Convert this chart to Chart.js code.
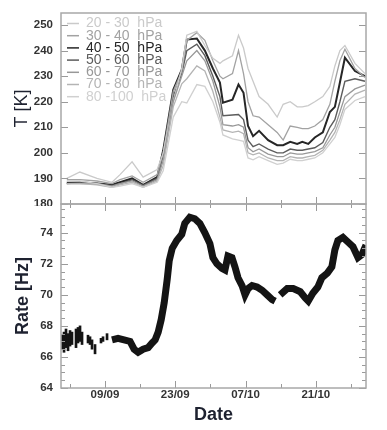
<!DOCTYPE html>
<html><head><meta charset="utf-8">
<script src="https://cdn.jsdelivr.net/npm/chart.js@4/dist/chart.umd.min.js"></script>
<style>
html,body{margin:0;padding:0;background:#fff;}
#wrap{position:relative;width:387px;height:430px;overflow:hidden;background:#fff;}
#topc{position:absolute;left:0;top:0;}
#botc{position:absolute;left:0;top:200px;}
</style></head><body>
<div id="wrap">
<canvas id="topc" width="387" height="206"></canvas>
<canvas id="botc" width="387" height="230"></canvas>
</div>
<script>
// ---------- data ----------
const tempDays = [0.4,3,6.4,9.4,11,13.4,15.6,18.4,19.6,21.6,23.3,24.3,26.3,27.9,29.5,30.9,31.5,33.4,34.6,35.6,36.5,37.5,38.7,40.5,42.3,43.5,44.9,46.3,47.3,48.5,49.8,51.4,52.8,53.8,54.8,55.8,57.8,59.8];
const layerLabels = ['20 - 30  hPa','30 - 40  hPa','40 - 50  hPa','50 - 60  hPa','60 - 70  hPa','70 - 80  hPa','80 -100  hPa'];
const t2030 = [190,192.5,190,188.5,191.5,196.5,190.5,193.5,200,220,233,246,247.5,242,237,235,236,238,246,241,233,228,222,219,214,219,220,218,218,218.5,220,222,226,234,240,242,235,231];
const t3040 = [189.5,189.5,189,188,189.5,191,188.5,191.5,200,224,232,244,247,244,236,230,229,231,240,231,220,214.5,214,211,208,205,210.5,210,209.5,209.5,210.5,213,219,228,236,240.5,233,229.5];
const t4050 = [188.3,188.5,188,187.5,188.5,190,187.5,190.5,201,224.7,232.5,244.3,244.7,240,233,227.5,219.6,220.8,226.7,223.5,210.5,206.5,208.6,205,203,203,204.3,203.5,204.3,203.5,206,208,216,218,227.5,237.2,232,230];
const t5060 = [188,188.3,188,187.2,188,189.5,187.3,190,199,222,231,240,242.5,238,230,222,214.5,214.8,215,213,205,202.4,203.5,201.5,200,200,201.5,201,201,201.5,202,204,210,213,220,228,229,228];
const t6070 = [188,188,188,187,188,189,187,189.5,197,220,230,236,240,236,228,218,211,210.5,211,210,202,200.4,201.5,199.5,198.5,198.5,200,199.5,199.5,200,200.5,202,207,210,216,222,225,226.5];
const t7080 = [188,188,187.5,186.5,187.5,188.5,186.5,189,195,218,227,229,234,232,224,214,209,208,208.5,207.5,200,199.2,200,198,197,197,198.5,198,198,198.5,199,201,205,208,213,219,223,224.5];
const t80100 = [189,189,188,186.5,187,188,186.5,188.5,193,214,220,219.5,226.7,226,220,212,207,205.5,205,204.5,198,197.3,198.5,197,195.5,196,197.5,197,197,197.5,198,200,203.5,206,211,217,220.5,222];
const layerColors = ['#cacaca','#a2a2a2','#262626','#5c5c5c','#989898','#b4b4b4','#d0d0d0'];
const layerWidths = [1.3,1.3,2,1.4,1.3,1.3,1.3];

const rateDays = [9.4,10.6,11.8,13.0,13.8,14.6,15.6,16.6,17.4,18.0,18.6,19.2,19.8,20.4,20.8,21.4,22.3,23.3,23.9,24.9,25.9,26.9,27.9,28.9,29.5,30.3,31.3,31.9,32.5,33.3,33.9,34.5,35.3,35.9,36.5,37.3,38.3,39.3,40.3,41.3,41.9,42.4,42.9,44.3,45.5,46.9,47.9,48.5,49.4,50.4,51.2,52.3,53.2,53.8,54.4,55.4,56.4,57.4,58.4,59.2,60];
const rateVals = [67.1,67.2,67.1,67.0,66.5,66.3,66.5,66.6,66.9,67.1,67.6,68.4,69.5,71.0,72.2,73.0,73.5,73.9,74.6,75.0,74.9,74.6,74.0,73.3,72.4,72.0,71.7,71.6,72.5,72.4,71.8,71.1,70.6,70.0,70.4,70.6,70.5,70.3,70.0,69.7,69.6,null,70.0,70.4,70.4,70.2,69.8,69.6,70.1,70.5,71.1,71.4,71.8,72.9,73.5,73.7,73.4,73.1,72.4,72.6,73.2];
const sparseDays = [-0.56,-0.16,0.24,0.64,1.04,1.43,2.23,2.63,3.03,3.43,4.62,5.02,5.42,6.02,7.21,7.61,8.41];
const sparseLo = [66.5,66.3,66.6,66.4,66.7,66.8,66.6,66.9,67.0,66.8,66.9,66.8,66.5,66.2,66.9,67.0,67.1];
const sparseHi = [67.4,67.6,67.8,67.5,67.7,67.6,67.8,67.9,68.0,67.6,67.4,67.3,67.1,66.8,67.2,67.3,67.5];

const xMin = -0.76, xMax = 60;
const dateTickDays = [8,22,36,50];
const dateTickLabels = ['09/09','23/09','07/10','21/10'];
const dateMinorDays = [1,15,29,43,57];
const tempTicks = [180,190,200,210,220,230,240,250];
const rateTicks = [64,66,68,70,72,74];
const rateMinorTicks = [64.5,65,65.5,66.5,67,67.5,68.5,69,69.5,70.5,71,71.5,72.5,73,73.5,74.5,75,75.5];

// ---------- helpers ----------
const FAM = '"Liberation Sans", Arial, sans-serif';
function deco(o){
  return {id:'deco', afterDatasetsDraw(chart){
    const ctx=chart.ctx, a=chart.chartArea, x=chart.scales.x, y=chart.scales.y;
    ctx.save();
    ctx.strokeStyle='#9a9a9a'; ctx.lineWidth=1;
    ctx.beginPath();
    const h=(v,len)=>{const p=Math.round(y.getPixelForValue(v))+0.5;
      ctx.moveTo(a.left,p);ctx.lineTo(a.left+len,p);ctx.moveTo(a.right,p);ctx.lineTo(a.right-len,p);};
    const vt=(v,len)=>{const p=Math.round(x.getPixelForValue(v))+0.5;
      if(o.xBottom){ctx.moveTo(p,a.bottom);ctx.lineTo(p,a.bottom-len);}
      if(o.xTop){ctx.moveTo(p,a.top);ctx.lineTo(p,a.top+len);}};
    o.yMajor.forEach(v=>h(v,7));
    (o.yMinor||[]).forEach(v=>h(v,4));
    dateTickDays.forEach(v=>vt(v,7));
    dateMinorDays.forEach(v=>vt(v,4));
    ctx.stroke();
    ctx.lineWidth=1.5; ctx.strokeStyle='#a8a8a8';
    ctx.strokeRect(a.left,a.top,a.right-a.left,a.bottom-a.top);
    ctx.restore();
  }};
}
const legendPlugin = {id:'lg', afterDraw(chart){
  const ctx=chart.ctx;
  ctx.save();
  ctx.font='14px '+FAM; ctx.textBaseline='middle'; ctx.textAlign='left';
  layerLabels.forEach((lab,i)=>{
    const yy=23.5+i*12.2;
    ctx.strokeStyle=layerColors[i]; ctx.lineWidth=1.5;
    ctx.beginPath(); ctx.moveTo(67,yy); ctx.lineTo(79,yy); ctx.stroke();
    ctx.fillStyle=layerColors[i]; ctx.fillText(lab,86,yy);
  });
  ctx.restore();
}};
const fixY = s=>{s.width=61; s.paddingTop=0; s.paddingBottom=0;};

const tickFont = {family:FAM, size:11.5, weight:'bold'};
const series = [t2030,t3040,t4050,t5060,t6070,t7080,t80100];
const order = [6,5,4,0,1,3,2];

new Chart(document.getElementById('topc'), {
  type:'line',
  data:{datasets: order.map(i=>({
    label: layerLabels[i],
    data: tempDays.map((d,k)=>({x:d, y:series[i][k]})),
    borderColor: layerColors[i], borderWidth: layerWidths[i],
    pointRadius:0, tension:0, fill:false
  }))},
  options:{
    responsive:false, animation:false, events:[],
    layout:{padding:{left:0,right:21,top:13,bottom:2}},
    plugins:{legend:{display:false}, tooltip:{enabled:false}},
    scales:{
      x:{type:'linear', min:xMin, max:xMax, display:false},
      y:{min:180, max:254.7,
        afterBuildTicks:s=>{s.ticks=tempTicks.map(v=>({value:v}));},
        afterFit:fixY,
        grid:{display:false, drawTicks:false}, border:{display:false},
        ticks:{padding:8, color:'#333', font:tickFont},
        title:{display:true, text:'T [K]', color:'#1e2230', font:{family:FAM,size:18}, padding:{top:11,bottom:0}}
      }
    }
  },
  plugins:[deco({yMajor:tempTicks, xBottom:true, xTop:false}), legendPlugin]
});

new Chart(document.getElementById('botc'), {
  type:'line',
  data:{datasets:[
    {type:'line', data: rateDays.map((d,k)=>({x:d, y:rateVals[k]})), borderColor:'#141414', borderWidth:7,
     pointRadius:0, tension:0, spanGaps:false, borderJoinStyle:'miter', borderCapStyle:'butt'},
    {type:'bar', data: sparseDays.map((d,k)=>({x:d, y:[sparseLo[k], sparseHi[k]]})), backgroundColor:'#141414',
     barThickness:2, grouped:false, borderWidth:0}
  ]},
  options:{
    responsive:false, animation:false, events:[],
    layout:{padding:{left:0,right:21,top:4,bottom:0}},
    plugins:{legend:{display:false}, tooltip:{enabled:false}},
    scales:{
      x:{type:'linear', min:xMin, max:xMax, offset:false,
        afterBuildTicks:s=>{s.ticks=dateTickDays.map(v=>({value:v}));},
        afterFit:s=>{s.height=42; s.paddingLeft=0; s.paddingRight=0;},
        grid:{display:false, drawTicks:false}, border:{display:false},
        ticks:{padding:0, color:'#333', font:tickFont, maxRotation:0, autoSkip:false,
          callback:(v)=>{const i=dateTickDays.indexOf(v); return i>=0?dateTickLabels[i]:'';}},
        title:{display:true, text:'Date', color:'#1e2230', font:{family:FAM,size:18,weight:'bold'}, padding:{top:0,bottom:4}}
      },
      y:{min:64, max:75.85,
        afterBuildTicks:s=>{s.ticks=rateTicks.map(v=>({value:v}));},
        afterFit:fixY,
        grid:{display:false, drawTicks:false}, border:{display:false},
        ticks:{padding:8, color:'#333', font:tickFont},
        title:{display:true, text:'Rate [Hz]', color:'#1e2230', font:{family:FAM,size:18,weight:'bold'}, padding:{top:12,bottom:0}}
      }
    }
  },
  plugins:[deco({yMajor:rateTicks, yMinor:rateMinorTicks, xBottom:true, xTop:true})]
});
</script>
</body></html>
